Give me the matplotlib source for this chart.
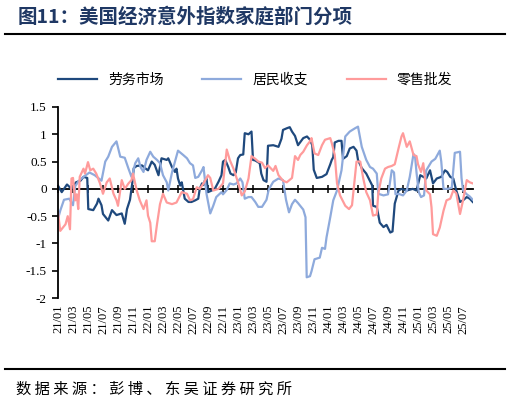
import numpy as np
import matplotlib.pyplot as plt
from matplotlib.lines import Line2D

# x positions are months since 2021-01
lab_t = [0, 0.5, 1.2, 1.8, 2.4, 3.0, 3.4, 3.9, 4.04, 4.7, 5.2, 5.4, 5.8, 6.0, 6.7, 7.2, 7.8, 8.5, 8.9, 9.2,
         9.6, 9.9, 10.1, 10.5, 11.2, 11.6, 12.0, 12.5, 12.9, 13.4, 13.8, 14.5, 14.7, 15.2, 15.6, 15.8, 16.0,
         16.3, 16.5, 16.9, 17.4, 17.8, 18.3, 18.7, 18.9, 19.2, 19.4, 19.6, 19.8, 20.0, 20.5, 20.9, 21.4, 21.8,
         22.0, 22.3, 22.7, 23.0, 23.4, 23.7, 24.0, 24.3, 24.7, 24.9, 25.4, 25.8, 26.0, 26.3, 26.9, 27.1, 27.4,
         27.8, 28.0, 28.7, 29.4, 29.8, 30.0, 30.5, 30.9, 31.2, 31.6, 32.0, 32.7, 33.2, 33.6, 33.9, 34.1, 34.5,
         35.2, 35.8, 36.3, 36.5, 36.7, 36.9, 37.4, 37.8, 38.0, 38.5, 38.9, 39.4, 39.8, 40.0, 40.5, 41.1, 41.6,
         41.9, 42.0, 42.5, 42.9, 43.4, 43.8, 44.3, 44.6, 44.9, 45.4, 45.8, 46.5, 47.3, 47.8, 48.3, 48.7, 49.1,
         49.6, 50.0, 50.5, 51.1, 51.6, 51.9, 52.3, 52.7, 53.1, 53.6, 54.0, 54.5, 54.9, 55.3]
lab_v = [0.06, -0.06, 0.08, 0.0, 0.12, 0.15, 0.22, 0.2, -0.37, -0.39, -0.27, -0.18, -0.3, -0.46, -0.58, -0.39,
         -0.48, -0.45, -0.64, -0.37, -0.2, 0.1, 0.38, 0.42, 0.43, 0.38, 0.34, 0.5, 0.44, 0.25, 0.56, 0.53, 0.56,
         0.4, 0.31, 0.37, 0.19, 0.06, 0.12, -0.18, -0.24, -0.24, -0.21, -0.18, 0.0, 0.1, 0.07, 0.16, 0.19,
         -0.06, -0.03, 0.0, 0.13, 0.25, 0.5, 0.53, 0.4, 0.28, 0.25, 0.3, 0.56, 0.62, 0.63, 1.02, 1.0, 1.05,
         0.53, 0.52, 0.47, 0.28, 0.16, 0.13, 0.79, 0.8, 0.77, 0.92, 1.08, 1.11, 1.13, 1.05, 0.97, 0.8, 0.93,
         0.96, 0.9, 0.8, 0.35, 0.2, 0.22, 0.27, 0.45, 0.53, 0.58, 0.85, 0.88, 0.88, 0.55, 0.6, 0.74, 0.77, 0.7,
         0.53, 0.38, 0.28, 0.14, 0.06, -0.31, -0.33, -0.62, -0.7, -0.66, -0.8, -0.78, -0.27, -0.03, 0.0, -0.03,
         0.0, -0.03, 0.25, 0.22, 0.19, 0.34, 0.1, 0.19, 0.22, 0.34, 0.31, 0.22, 0.19, -0.03, -0.24, -0.21,
         -0.15, -0.18, -0.24]

inc_t = [0, 0.3, 0.8, 1.5, 2.0, 2.3, 2.8, 3.4, 4.2, 4.9, 5.8, 6.3, 6.7, 7.2, 7.8, 8.3, 8.9, 9.4, 9.8, 10.0,
         10.3, 10.7, 11.0, 11.4, 11.8, 12.3, 12.7, 13.2, 13.6, 14.0, 14.5, 14.7, 15.2, 15.6, 16.0, 16.7, 17.2,
         17.6, 18.0, 18.3, 18.7, 19.2, 19.4, 19.6, 19.8, 20.3, 20.7, 21.1, 21.8, 22.0, 22.5, 22.9, 23.4, 23.8,
         24.3, 24.6, 24.9, 25.4, 25.8, 26.3, 26.7, 27.2, 27.8, 28.1, 28.7, 29.4, 29.8, 30.0, 30.4, 30.8, 31.2,
         31.6, 32.0, 32.7, 33.0, 33.16, 33.6, 33.8, 34.2, 34.9, 35.2, 35.6, 35.8, 36.3, 36.7, 37.2, 37.8, 38.3,
         38.9, 39.6, 40.0, 40.5, 41.1, 41.6, 42.0, 42.5, 42.7, 43.4, 44.0, 44.2, 44.5, 44.8, 45.0, 45.4, 46.0,
         46.5, 46.9, 47.4, 47.6, 47.8, 48.1, 48.4, 48.8, 49.1, 49.8, 50.3, 50.9, 51.1, 51.4, 52.0, 52.5, 52.9,
         53.6, 53.8, 54.0, 54.5, 54.9, 55.3]
inc_v = [-0.55, -0.4, -0.2, -0.18, -0.3, 0.05, 0.15, 0.22, 0.3, 0.25, 0.15, 0.5, 0.59, 0.77, 0.87, 0.59, 0.57,
         0.37, 0.22, 0.3, 0.47, 0.56, 0.4, 0.31, 0.53, 0.68, 0.59, 0.53, 0.47, 0.25, 0.12, -0.03, 0.3, 0.5, 0.7,
         0.62, 0.56, 0.47, 0.43, 0.2, 0.22, 0.34, 0.4, 0.16, -0.09, -0.45, -0.31, -0.15, -0.06, -0.1, -0.02, 0.1,
         0.08, 0.1, 0.19, 0.12, -0.18, -0.15, -0.15, -0.24, -0.33, -0.33, -0.2, -0.01, 0.13, 0.19, 0.17, 0.16,
         -0.2, -0.43, -0.28, -0.2, -0.26, -0.38, -0.52, -1.62, -1.6, -1.51, -1.29, -1.26, -1.08, -1.1, -0.89,
         -0.52, -0.21, -0.03, 0.34, 0.96, 1.05, 1.11, 1.14, 0.77, 0.53, 0.4, 0.37, 0.28, -0.09, -0.12, -0.1,
         0.06, 0.34, 0.3, -0.1, -0.09, -0.12, -0.03, 0.22, 0.64, 0.6, 0.3, -0.06, -0.15, -0.12, 0.34, 0.5, 0.55,
         0.7, 0.5, 0.0, 0.0, 0.02, 0.66, 0.68, 0.2, -0.03, -0.1, -0.14, -0.2]

ret_t = [0, 0.3, 1.0, 1.3, 1.6, 1.8, 2.0, 2.3, 2.5, 2.7, 2.9, 3.4, 3.6, 4.0, 4.3, 4.7, 5.1, 5.6, 6.0, 6.5, 6.9,
         7.4, 7.8, 8.0, 8.5, 8.9, 9.4, 9.8, 10.0, 10.5, 10.9, 11.4, 11.8, 12.0, 12.3, 12.5, 12.9, 13.2, 13.6,
         14.0, 14.5, 15.2, 15.8, 16.5, 17.2, 17.6, 18.0, 18.5, 18.9, 19.4, 20.0, 20.3, 20.7, 21.4, 22.0, 22.5,
         22.9, 23.4, 24.0, 24.5, 24.9, 25.4, 25.8, 26.3, 26.7, 27.2, 27.6, 28.0, 28.7, 29.0, 29.4, 30.0, 30.5,
         31.2, 31.6, 32.0, 32.3, 32.7, 33.2, 33.6, 33.8, 34.2, 34.7, 35.2, 35.6, 36.3, 36.5, 36.9, 37.2, 37.6,
         38.3, 38.8, 39.2, 39.8, 40.3, 40.7, 41.1, 41.6, 42.0, 42.5, 42.7, 43.1, 43.6, 44.0, 44.5, 44.9, 45.4,
         45.8, 46.0, 46.5, 46.9, 47.4, 47.8, 48.0, 48.4, 48.7, 49.1, 49.6, 49.8, 50.0, 50.5, 50.9, 51.4, 51.8,
         52.3, 52.7, 53.1, 53.6, 54.0, 54.5, 54.9, 55.3]
ret_v = [-0.43, -0.77, -0.65, -0.5, -0.74, 0.19, 0.2, -0.21, -0.1, -0.37, 0.22, 0.37, 0.28, 0.49, 0.34, 0.37,
         0.28, 0.1, -0.09, 0.12, 0.19, -0.09, -0.21, -0.31, 0.16, 0.0, 0.1, 0.16, 0.28, -0.03, -0.21, -0.37,
         -0.21, -0.49, -0.62, -0.96, -0.96, -0.65, -0.28, -0.09, -0.25, -0.28, -0.25, -0.06, -0.09, -0.21,
         -0.19, 0.03, 0.0, 0.1, 0.25, 0.2, -0.03, 0.0, 0.1, 0.72, 0.53, 0.37, 0.12, -0.12, -0.05, 0.19, 0.6,
         0.55, 0.5, 0.48, 0.38, 0.43, 0.33, 0.42, 0.25, 0.15, 0.12, 0.2, 0.6, 0.53, 0.62, 0.68, 0.8, 0.87, 0.93,
         0.65, 0.62, 0.8, 0.9, 0.93, 0.84, 0.62, 0.1, -0.12, -0.31, -0.37, -0.3, 0.5, 0.5, 0.19, -0.06, -0.21,
         -0.49, -0.47, -0.09, 0.19, 0.37, 0.4, 0.42, 0.45, 0.74, 0.96, 1.02, 0.77, 0.87, 0.62, 0.6, 0.45, 0.31,
         0.47, -0.03, -0.1, -0.34, -0.83, -0.86, -0.71, -0.4, -0.21, -0.18, -0.03, -0.08, -0.46, -0.21, 0.16,
         0.12, 0.1]

tick_pos = list(range(0, 55, 2))
tick_lab = [f"{21 + p // 12}/{p % 12 + 1:02d}" for p in tick_pos]

cjk = ['Noto Sans CJK SC', 'DejaVu Sans']
serif = ['Liberation Serif', 'DejaVu Serif']

fig = plt.figure(figsize=(5.1, 4.03), dpi=100)
ax = fig.add_axes([0.1137, 0.2605, 0.8133, 0.474])

ax.plot(lab_t, lab_v, color='#1F497D', lw=1.6, label='劳务市场')
ax.plot(inc_t, inc_v, color='#8EAADC', lw=1.6, label='居民收支')
ax.plot(ret_t, ret_v, color='#FF9B9B', lw=1.6, label='零售批发')

ax.set_xlim(0, 55.3)
ax.set_ylim(-2, 1.5)
ax.set_yticks([-2, -1.5, -1, -0.5, 0, 0.5, 1, 1.5])
ax.set_yticklabels(['-2', '-1.5', '-1', '-0.5', '0', '0.5', '1', '1.5'], family=serif, fontsize=9.5)
ax.tick_params(axis='y', direction='out', length=4, width=1.2, pad=4)

ax.set_xticks(tick_pos)
ax.set_xticklabels(tick_lab, rotation=90, family=serif, fontsize=9)
ax.tick_params(axis='x', length=0, pad=5)

for s in ['top', 'right', 'bottom']:
    ax.spines[s].set_visible(False)
ax.spines['left'].set_linewidth(1.3)

# zero line with cross ticks
sec = ax.secondary_xaxis(2 / 3.5)
sec.set_xticks(tick_pos)
sec.tick_params(direction='inout', length=6, width=1.1, labelbottom=False, labeltop=False)
sec.spines['bottom'].set_linewidth(1.3)
sec.spines['top'].set_linewidth(1.3)

fig.legend(loc='center', bbox_to_anchor=(0.5, 1 - 80 / 403), ncol=3, frameon=False,
           prop={'family': cjk, 'size': 10}, handlelength=2.8, columnspacing=2.8, handletextpad=0.8)

fig.text(0.035, 1 - 17 / 403, '图11：美国经济意外指数家庭部门分项', family=cjk, fontsize=14,
         fontweight='bold', color='#1F3864', va='center')
fig.add_artist(Line2D([0.01, 0.99], [1 - 34 / 403] * 2, color='black', lw=1.5))
fig.add_artist(Line2D([0.01, 0.99], [1 - 369 / 403] * 2, color='black', lw=1.5))
fig.text(0.031, 1 - 389 / 403, ' '.join('数据来源：彭博、东吴证券研究所'), family=cjk, fontsize=11, va='center')

fig.savefig('out.png', dpi=100)
